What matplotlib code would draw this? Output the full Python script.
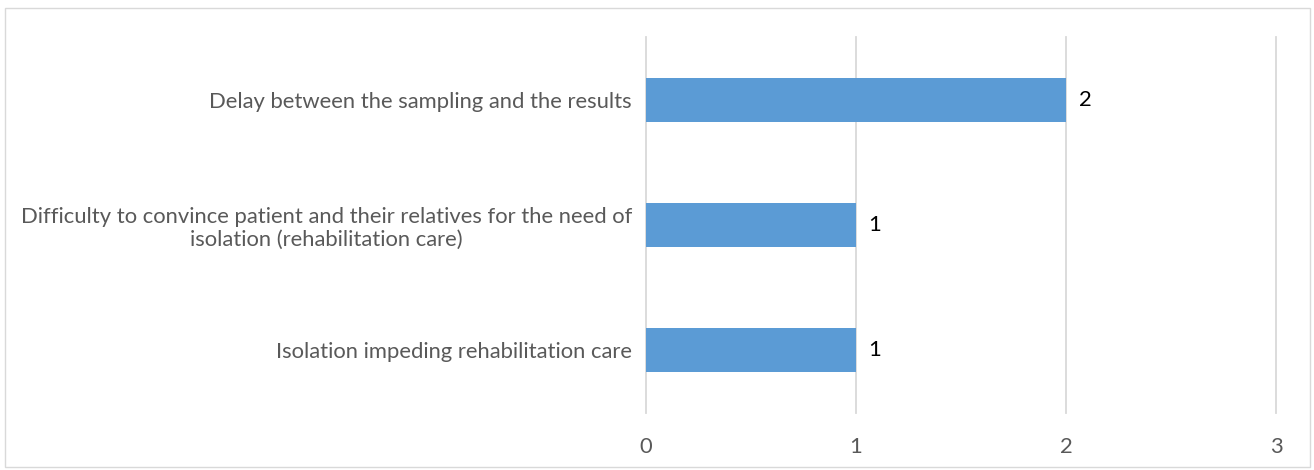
import matplotlib.pyplot as plt
from matplotlib.patches import Rectangle

categories = ['Isolation impeding rehabilitation care',
              'Difficulty to convince patient and their relatives for the need of\nisolation (rehabilitation care)',
              'Delay between the sampling and the results']
values = [1, 1, 2]
xticks = [0, 1, 2, 3]

plt.rcParams['font.family'] = ['Lato', 'DejaVu Sans']

fig = plt.figure(figsize=(13.14, 4.70), dpi=100)
ax = fig.add_axes([646 / 1314, 57 / 470, 630 / 1314, 376 / 470])

pos = range(len(categories))
ax.barh(pos, values, height=0.35, color='#5B9BD5', zorder=3)
for p, v in zip(pos, values):
    ax.text(v + 0.06, p, str(v), va='center', ha='left', fontsize=15.8, color='black')

ax.set_xlim(0, 3)
ax.set_ylim(-0.5, 2.5)
ax.set_xticks(xticks)
ax.set_yticks(list(pos))
ax.set_yticklabels(categories, multialignment='center')
ax.tick_params(axis='both', length=0, labelsize=15.8, labelcolor='#595959')
ax.tick_params(axis='x', pad=17)
ax.tick_params(axis='y', pad=10)
# vertical gridlines, unclipped so the last one at x=3 shows fully
for t in xticks:
    ax.axvline(t, color='#D9D9D9', linewidth=1.3, zorder=0, clip_on=False)
for s in ax.spines.values():
    s.set_visible(False)

# chart border
fig.patches.append(Rectangle((5 / 1314, 3 / 470), 1305 / 1314, 459 / 470,
                             transform=fig.transFigure, fill=False,
                             edgecolor='#D9D9D9', linewidth=1))

fig.savefig('out.png', dpi=100)
